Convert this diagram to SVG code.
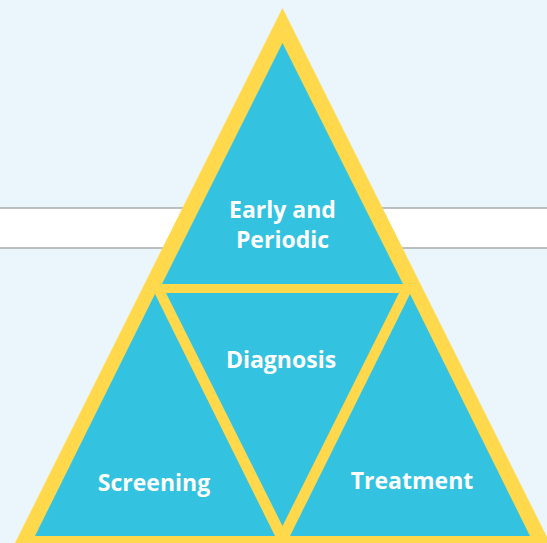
<svg xmlns="http://www.w3.org/2000/svg" width="547" height="543" viewBox="0 0 547 543">
  <style>
    .band-line { stroke: #A9ABAD; stroke-width: 1.5; }
    .frame { fill: #FFD94B; }
    .tri { fill: #33C2DF; }
    .label { font-family: "Open Sans", "Noto Sans", sans-serif; font-weight: 700; font-size: 23px; fill: #FFFFFF; text-anchor: middle; }
  </style>
  <rect x="0" y="0" width="547" height="543" fill="#EAF6FB"/>
  <g id="band">
    <rect x="0" y="208" width="547" height="40" fill="#FFFFFF"/>
    <line class="band-line" x1="0" y1="208" x2="547" y2="208"/>
    <line class="band-line" x1="0" y1="248" x2="547" y2="248"/>
  </g>
  <g id="frame">
    <polygon class="frame" points="282.5,8 558.5,560 6.5,560"/>
  </g>
  <g id="node-early-periodic">
    <polygon class="tri" points="282.5,43 403,284 162,284"/>
    <text class="label" x="282.5" y="218">Early and</text>
    <text class="label" x="282.5" y="248">Periodic</text>
  </g>
  <g id="node-diagnosis">
    <polygon class="tri" points="166,293 399,293 282.5,526"/>
    <text class="label" x="281" y="368">Diagnosis</text>
  </g>
  <g id="node-screening">
    <polygon class="tri" points="155,294 275,536 35,536"/>
    <text class="label" x="154" y="491">Screening</text>
  </g>
  <g id="node-treatment">
    <polygon class="tri" points="410,294 530,536 290,536"/>
    <text class="label" x="412" y="489">Treatment</text>
  </g>
  <g id="connectors"></g>
</svg>
